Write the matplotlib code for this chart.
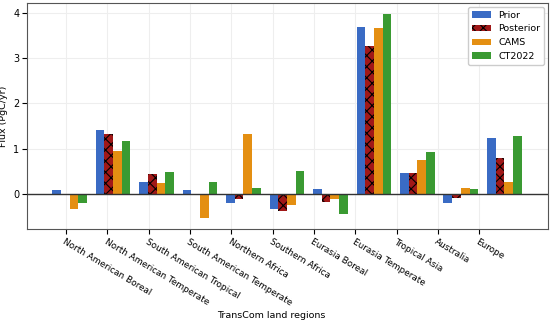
import numpy as np
import matplotlib
matplotlib.use("Agg")
import matplotlib.pyplot as plt

# TransCom land regions and fluxes (PgC/yr)
regions = ["North American Boreal", "North American Temperate", "South American Tropical",
           "South American Temperate", "Northern Africa", "Southern Africa", "Eurasia Boreal",
           "Eurasia Temperate", "Tropical Asia", "Australia", "Europe"]
prior = [0.09, 1.42, 0.26, 0.09, -0.21, -0.34, 0.10, 3.69, 0.47, -0.20, 1.24]
posterior = [-0.01, 1.31, 0.44, 0.00, -0.12, -0.39, -0.19, 3.27, 0.47, -0.09, 0.78]
cams = [-0.33, 0.94, 0.23, -0.54, 1.33, -0.25, -0.12, 3.67, 0.74, 0.12, 0.26]
ct2022 = [-0.20, 1.17, 0.49, 0.26, 0.13, 0.51, -0.45, 3.97, 0.93, 0.10, 1.28]

plt.rcParams["hatch.linewidth"] = 0.8

fig = plt.figure(figsize=(5.5, 3.2), dpi=100)
ax = fig.add_axes([0.049, 0.284, 0.947, 0.706])

x = np.arange(len(regions))
w = 0.2
ax.bar(x - 1.5 * w, prior, w, color="#3a6bc4", label="Prior", zorder=3)
ax.bar(x - 0.5 * w, posterior, w, color="#a01818", edgecolor="black", hatch="xxx",
       linewidth=0, label="Posterior", zorder=3)
ax.bar(x + 0.5 * w, cams, w, color="#e48f12", label="CAMS", zorder=3)
ax.bar(x + 1.5 * w, ct2022, w, color="#3a9a32", label="CT2022", zorder=3)

ax.axhline(0, color="#333333", linewidth=1, zorder=4)
ax.set_xlim(-0.98, 11.0)
ax.set_ylim(-0.78, 4.21)
ax.set_yticks([0, 1, 2, 3, 4])
# tick marks sit slightly off the bar groups, as in the original
ax.set_xticks(x * 0.95 - 0.08)
ax.set_xticklabels(regions, rotation=-31, ha="left", rotation_mode="anchor", fontsize=6.4)
ax.tick_params(axis="x", pad=2.5)
ax.tick_params(axis="y", labelsize=7, pad=2)
ax.grid(True, color="#eeeeee", linewidth=0.8, zorder=0)
for s in ax.spines.values():
    s.set_color("#555555")

ax.set_ylabel("Flux (PgC/yr)", fontsize=6.8)
ax.yaxis.set_label_coords(-0.036, 0.5)
ax.set_xlabel("TransCom land regions", fontsize=6.8)
ax.xaxis.set_label_coords(0.47, -0.363)
ax.legend(loc="upper right", fontsize=6.8, framealpha=1, borderaxespad=0.4)

fig.savefig("out.png", dpi=100)
